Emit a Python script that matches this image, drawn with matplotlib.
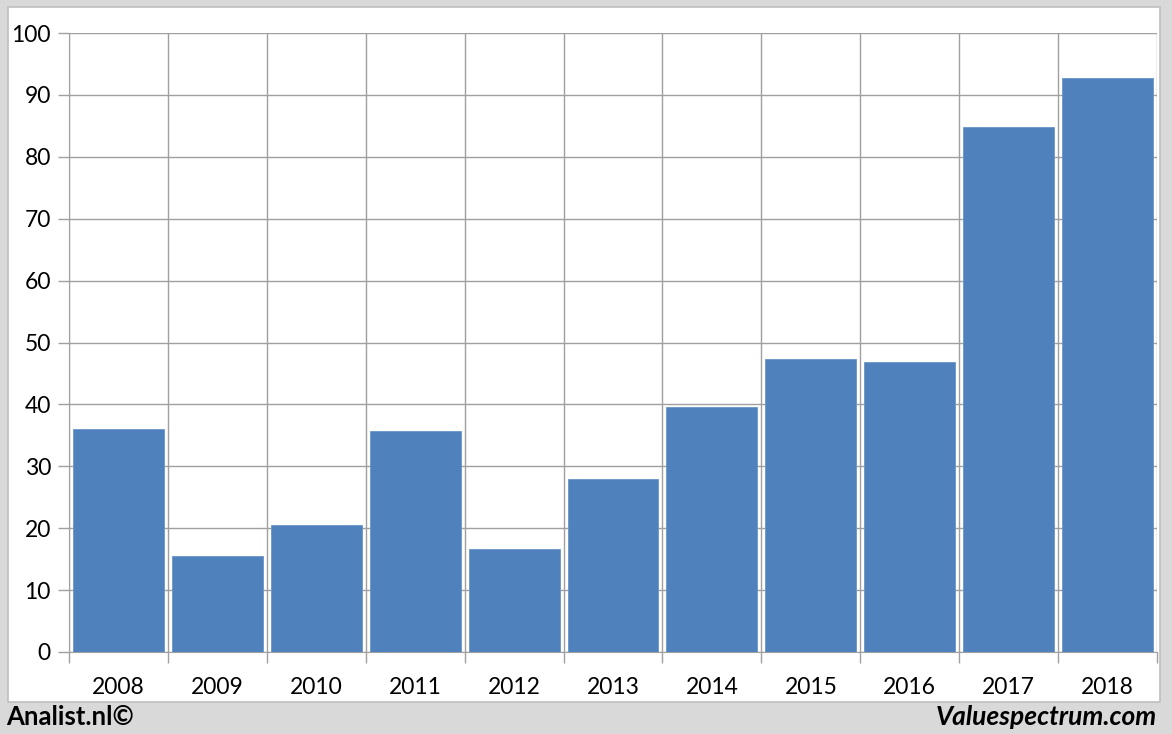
import numpy as np
import matplotlib.pyplot as plt
from matplotlib.patches import Rectangle

years = ['2008', '2009', '2010', '2011', '2012', '2013',
         '2014', '2015', '2016', '2017', '2018']
values = [36.0, 15.5, 20.5, 35.7, 16.6, 27.9, 39.6, 47.3, 46.8, 84.8, 92.7]
y_ticks = [0, 10, 20, 30, 40, 50, 60, 70, 80, 90, 100]

W, H = 1172, 734
fig = plt.figure(figsize=(W / 100, H / 100), dpi=100, facecolor='#d9d9d9')

# white chart panel on grey background
fig.patches.append(Rectangle((8 / W, 1 - 702 / H), (1160 - 8) / W, (702 - 7) / H,
                             transform=fig.transFigure, facecolor='white',
                             edgecolor='#bfbfbf', linewidth=1.2, zorder=-1))

ax = fig.add_axes([69 / W, 1 - 652 / H, (1157 - 69) / W, (652 - 33) / H])
ax.set_facecolor('white')

x = np.arange(len(years))
ax.bar(x, values, width=0.92, color='#4f81bd', edgecolor='#6a95c8',
       linewidth=0.6, zorder=3)

ax.set_xlim(-0.5, len(years) - 0.5)
ax.set_ylim(0, 100)
ax.set_yticks(y_ticks)
ax.set_yticklabels([str(v) for v in y_ticks])

# vertical grid lines at category boundaries
ax.set_xticks(np.arange(-0.5, len(years), 1.0))
ax.set_xticklabels([])
ax.set_xticks(x, minor=True)
ax.set_xticklabels(years, minor=True)
ax.tick_params(axis='x', which='minor', length=0, pad=18, labelsize=16.5)
ax.tick_params(axis='x', which='major', length=8, color='#a0a0a0', width=1)
ax.tick_params(axis='y', length=8, color='#a0a0a0', width=1, labelsize=16.5, pad=5)

ax.grid(True, which='major', color='#a0a0a0', linewidth=1, zorder=0)
ax.set_axisbelow(True)
for side in ['top', 'right']:
    ax.spines[side].set_visible(False)
for side in ['left', 'bottom']:
    ax.spines[side].set_color('#a0a0a0')

for lab in ax.get_xticklabels(which='minor') + ax.get_yticklabels():
    lab.set_family('Lato')

fig.text(6 / W, 1 - 717 / H, 'Analist.nl©', fontsize=18.5, fontweight='bold',
         family='Lato', ha='left', va='center')
fig.text(1157 / W, 1 - 717 / H, 'Valuespectrum.com', fontsize=19,
         fontweight='bold', style='italic', family='Lato', ha='right', va='center')

fig.savefig('out.png', dpi=100, facecolor=fig.get_facecolor())
